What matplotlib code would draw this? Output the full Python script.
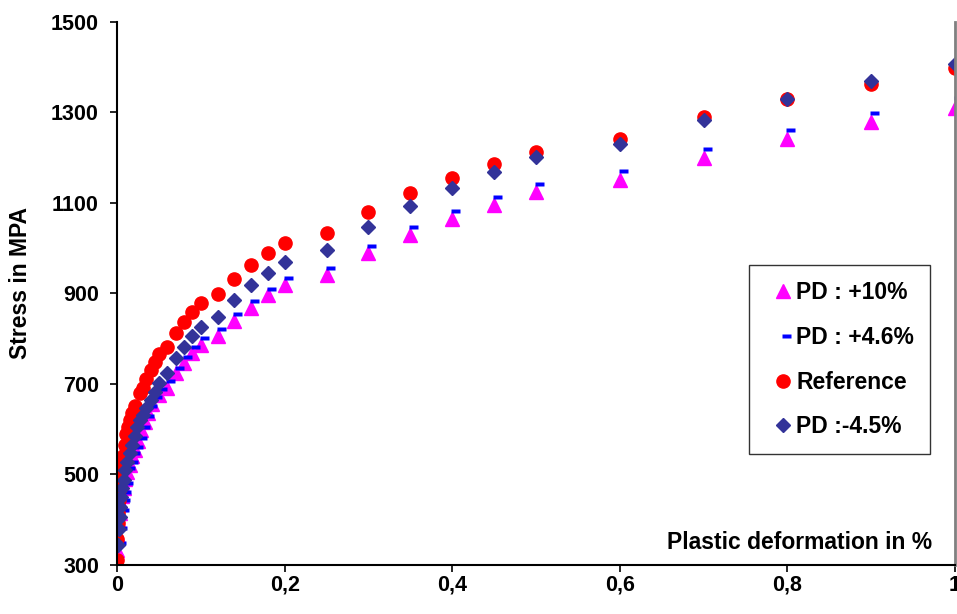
import numpy as np
import matplotlib
matplotlib.use("Agg")
import matplotlib.pyplot as plt
from matplotlib.path import Path
from matplotlib.legend_handler import HandlerLine2D

plt.rcParams["font.family"] = ["Liberation Sans", "DejaVu Sans"]
plt.rcParams["font.weight"] = "bold"

# datos -------------------------------------------------------------------------
x_pd10 = [0, 0.001, 0.002, 0.004, 0.005, 0.006, 0.008, 0.01, 0.012, 0.015,
          0.018, 0.021, 0.025, 0.029, 0.033, 0.037, 0.042, 0.05, 0.06, 0.07,
          0.08, 0.09, 0.1, 0.12, 0.14, 0.16, 0.18, 0.2, 0.25, 0.3,
          0.35, 0.4, 0.45, 0.5, 0.6, 0.7, 0.8, 0.9, 1.0]
y_pd10 = [333, 365, 395, 415, 435, 452, 470, 490, 505, 522,
          540, 555, 575, 598, 617, 637, 656, 676, 691, 725,
          746, 768, 786, 806, 840, 867, 897, 919, 941, 989,
          1029, 1065, 1096, 1125, 1151, 1199, 1241, 1280, 1309]

x_pd46 = [0.001, 0.002, 0.005, 0.006, 0.007, 0.01, 0.012, 0.016, 0.018, 0.022,
          0.026, 0.03, 0.034, 0.038, 0.044, 0.05, 0.06, 0.07, 0.08, 0.09,
          0.1, 0.12, 0.14, 0.16, 0.18, 0.2, 0.25, 0.3, 0.35, 0.4,
          0.45, 0.5, 0.6, 0.7, 0.8, 0.9, 1.0]
y_pd46 = [348, 381, 422, 444, 462, 481, 514, 528, 547, 561,
          580, 606, 629, 651, 672, 690, 707, 736, 760, 782,
          802, 822, 855, 884, 911, 935, 957, 1004, 1046, 1082,
          1114, 1143, 1171, 1219, 1261, 1298, 1331]

x_ref = [0, 0.0005, 0.001, 0.0015, 0.002, 0.003, 0.004, 0.005, 0.007, 0.009,
         0.011, 0.013, 0.015, 0.018, 0.022, 0.027, 0.031, 0.035, 0.04, 0.045,
         0.05, 0.06, 0.07, 0.08, 0.09, 0.1, 0.12, 0.14, 0.16, 0.18,
         0.2, 0.25, 0.3, 0.35, 0.4, 0.45, 0.5, 0.6, 0.7, 0.8,
         0.9, 1.0]
y_ref = [311, 358, 392, 414, 444, 470, 495, 517, 541, 566,
         590, 606, 620, 637, 652, 681, 692, 710, 732, 749,
         766, 782, 812, 838, 860, 880, 899, 932, 962, 989,
         1011, 1033, 1079, 1121, 1156, 1186, 1213, 1241, 1289, 1329,
         1363, 1398]

x_pdm45 = [0.001, 0.002, 0.003, 0.004, 0.005, 0.006, 0.008, 0.01, 0.012, 0.015,
           0.018, 0.021, 0.024, 0.027, 0.031, 0.035, 0.04, 0.045, 0.05, 0.06,
           0.07, 0.08, 0.09, 0.1, 0.12, 0.14, 0.16, 0.18, 0.2, 0.25,
           0.3, 0.35, 0.4, 0.45, 0.5, 0.6, 0.7, 0.8, 0.9, 1.0]
y_pdm45 = [345, 380, 407, 429, 451, 470, 488, 510, 528, 547,
           565, 584, 606, 620, 631, 646, 665, 683, 702, 724,
           757, 782, 806, 825, 849, 886, 919, 946, 970, 996,
           1048, 1093, 1133, 1169, 1201, 1230, 1283, 1329, 1370, 1407]

labels = ["PD : +10%", "PD : +4.6%", "Reference", "PD :-4.5%"]
xticks = [0, 0.2, 0.4, 0.6, 0.8, 1.0]
xtick_labels = ["0", "0,2", "0,4", "0,6", "0,8", "1"]
yticks = [300, 500, 700, 900, 1100, 1300, 1500]

# marcador guion desplazado a la derecha (como en Excel) ---------------------
dash = Path([(-0.15, -0.3), (1.0, -0.3), (1.0, 0.3), (-0.15, 0.3), (-0.15, -0.3)],
            [Path.MOVETO, Path.LINETO, Path.LINETO, Path.LINETO, Path.CLOSEPOLY])

fig = plt.figure(figsize=(9.57, 6.14), dpi=100, facecolor="white")
ax = fig.add_axes([0.1223, 0.0798, 0.8757, 0.8844])

l1, = ax.plot(x_pd10, y_pd10, ls="none", marker="^", ms=10, color="#FF00FF",
              mec="#FF00FF", label=labels[0])
l2, = ax.plot(x_pd46, y_pd46, ls="none", marker=dash, ms=11, color="#0000FF",
              mec="none", label=labels[1])
l3, = ax.plot(x_ref, y_ref, ls="none", marker="o", ms=9.5, color="#FF0000",
              mec="#FF0000", label=labels[2])
l4, = ax.plot(x_pdm45, y_pdm45, ls="none", marker="D", ms=7.5, color="#333399",
              mec="#333399", label=labels[3])

ax.set_xlim(0, 1)
ax.set_ylim(300, 1500)
ax.set_xticks(xticks)
ax.set_xticklabels(xtick_labels)
ax.set_yticks(yticks)
ax.tick_params(axis="both", which="major", labelsize=15.5, length=5, width=1.2,
               direction="out", color="black")
ax.tick_params(axis="x", pad=2)
ax.tick_params(axis="y", pad=8)
for t in ax.get_xticklabels() + ax.get_yticklabels():
    t.set_fontweight("bold")

ax.spines["top"].set_visible(False)
ax.spines["right"].set_color("#808080")
ax.spines["right"].set_linewidth(2.0)
ax.spines["left"].set_linewidth(1.5)
ax.spines["bottom"].set_linewidth(1.5)

fig.text(21 / 957, 1 - 283 / 614, "Stress in MPA", rotation=90, ha="center", va="center",
         fontsize=16.5, fontweight="bold")
ax.text(0.9726, 0.029, "Plastic deformation in %", transform=ax.transAxes,
        ha="right", va="baseline", fontsize=16.5, fontweight="bold")

hmap = {h: HandlerLine2D(xpad=0.47) for h in (l1, l2, l3, l4)}
leg = ax.legend(loc="upper left", bbox_to_anchor=(749 / 957, 1 - 265 / 614),
                bbox_transform=fig.transFigure, frameon=True, fancybox=False,
                prop={"size": 16.5, "weight": "bold"}, handlelength=1.07,
                handletextpad=0.3, labelspacing=0.95, borderpad=0.7,
                borderaxespad=0, handler_map=hmap)
leg.get_frame().set_edgecolor("black")
leg.get_frame().set_linewidth(1.0)

fig.savefig("out.png", dpi=100)
